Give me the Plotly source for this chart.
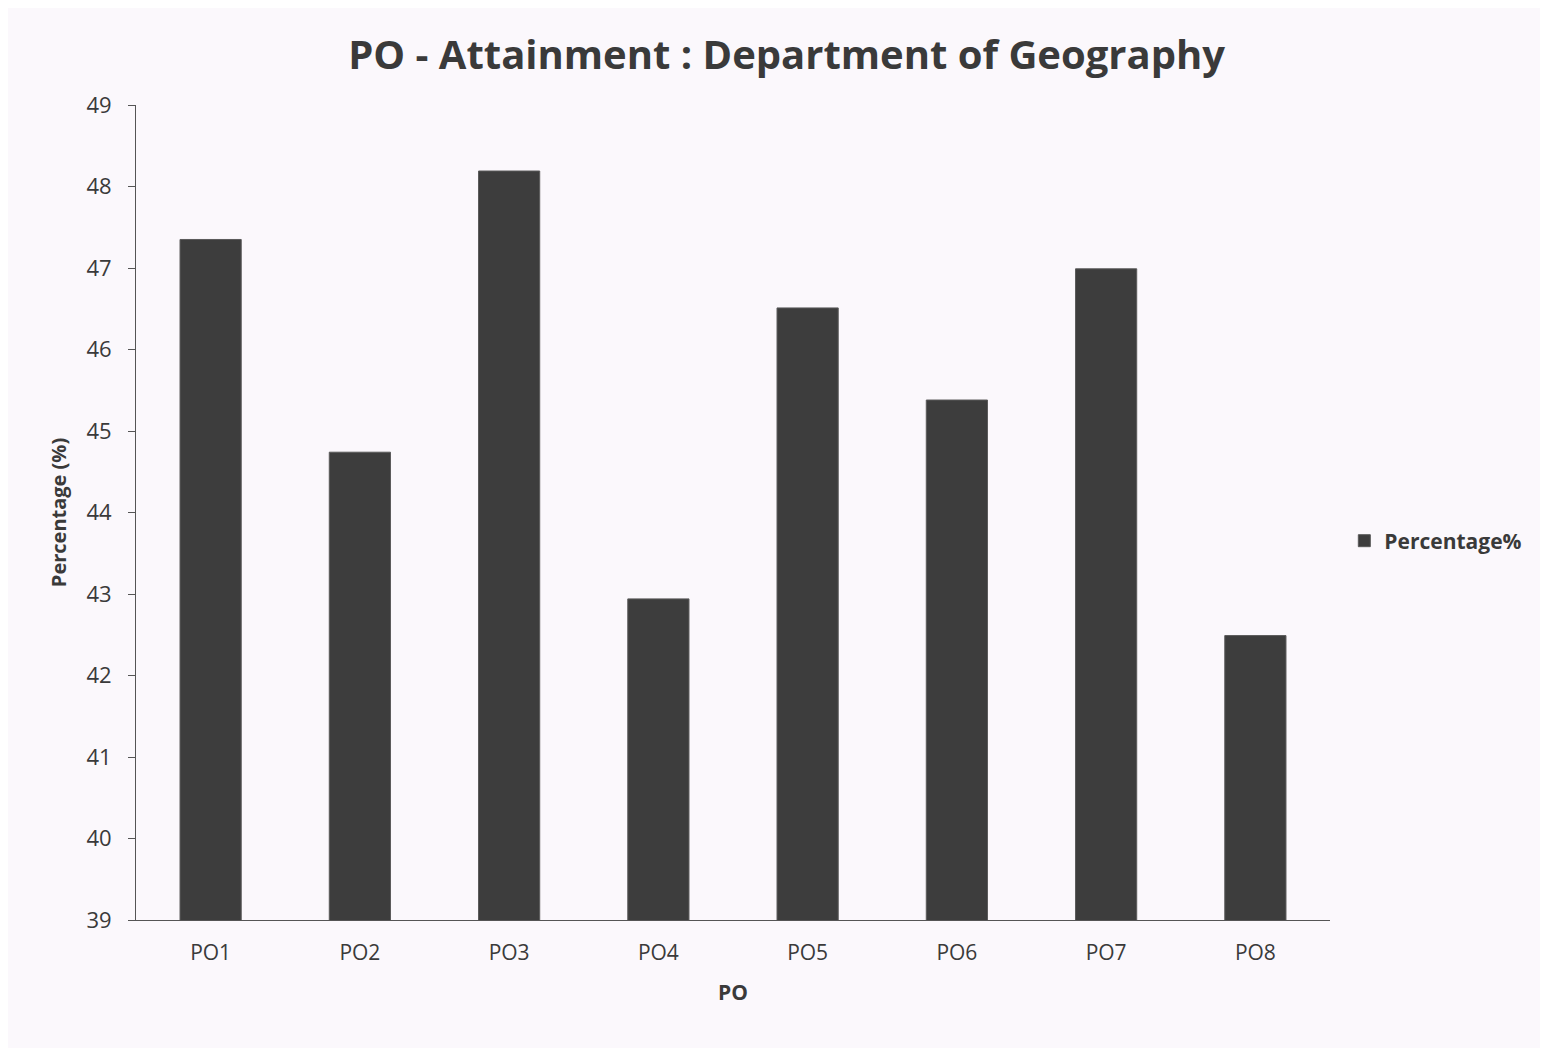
import plotly.graph_objects as go

# PO attainment values
po_labels = ["PO1", "PO2", "PO3", "PO4", "PO5", "PO6", "PO7", "PO8"]
percentages = [47.35, 44.74, 48.19, 42.94, 46.51, 45.38, 46.99, 42.49]

FONT = "Open Sans, Carlito, Liberation Sans, Arial, sans-serif"
TXT = "#3a3a3a"
BAR = "#3d3d3d"
BG = "#fbf8fc"

fig = go.Figure()
fig.add_trace(go.Bar(
    x=po_labels, y=percentages, name="<b>Percentage%</b>",
    marker=dict(color=BAR, line=dict(color="#5a5a5a", width=1)),
    width=0.41, showlegend=True
))

# page body has an 8px margin, so margins are shifted to line up with the reference
fig.update_layout(
    title=dict(text="<b>PO - Attainment : Department of Geography</b>",
               font=dict(size=40, color=TXT, family=FONT),
               x=0.503, xanchor="center", y=0.955, yanchor="middle"),
    font=dict(family=FONT, color=TXT, size=20),
    plot_bgcolor=BG, paper_bgcolor=BG,
    width=1548, height=1048,
    margin=dict(l=128, r=226, t=97, b=136),
    legend=dict(x=1.012, y=0.465, xanchor="left", yanchor="middle",
                font=dict(size=21, color=TXT, family=FONT),
                itemwidth=30, bgcolor="rgba(0,0,0,0)"),
    bargap=0.59
)

fig.update_xaxes(
    title=dict(text="<b>PO</b>", font=dict(size=21, color=TXT), standoff=20),
    showline=True, linecolor="#555555", linewidth=1,
    showgrid=False, ticks="", ticklabelstandoff=14,
    tickfont=dict(size=21, color=TXT)
)
fig.update_yaxes(
    title=dict(text="<b>Percentage (%)</b>", font=dict(size=20, color=TXT), standoff=14),
    range=[39, 49], dtick=1,
    showline=True, linecolor="#555555", linewidth=1,
    showgrid=False, ticks="outside", ticklen=7, tickcolor="#555555",
    ticklabelstandoff=12,
    tickfont=dict(size=22, color=TXT), zeroline=False
)

fig.write_html("out.html")
